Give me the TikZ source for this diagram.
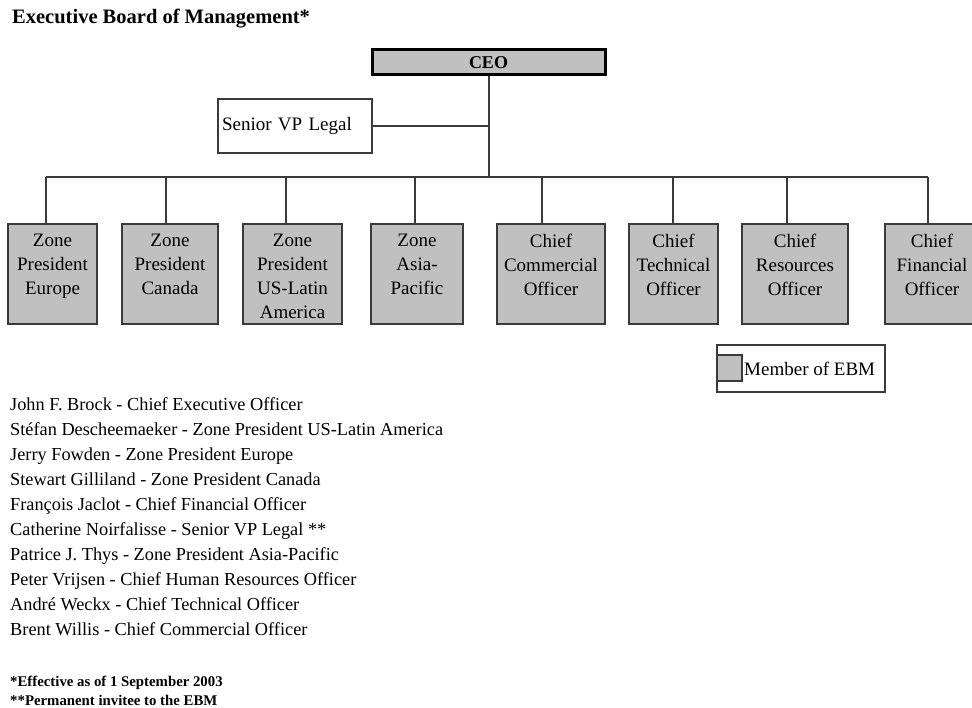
\documentclass[tikz,border=0pt]{standalone}
\usepackage{fontspec}
\setmainfont{Liberation Serif}
\usetikzlibrary{positioning}
\definecolor{boxgray}{RGB}{192,192,192}
\definecolor{edgegray}{RGB}{58,58,58}
\tikzstyle{chief} = [rectangle, draw=black, line width=3pt, fill=boxgray, minimum width=233pt, minimum height=25pt, font=\fontsize{18}{20}\selectfont\bfseries]
\tikzstyle{plain} = [rectangle, draw=edgegray, line width=2pt, fill=white, text width=146pt, inner xsep=4pt, minimum height=54pt, align=left, font=\fontsize{19}{22}\selectfont]
\tikzstyle{member} = [rectangle, draw=edgegray, line width=2pt, fill=boxgray, inner sep=0pt, anchor=north, font=\fontsize{19}{24}\selectfont]
\tikzstyle{line} = [draw=edgegray, line width=2pt]
\newcommand{\boxtext}[2]{\parbox[t][100pt][t]{#1}{\centering\vspace{10pt}#2}}

\begin{document}
\begin{tikzpicture}[x=1pt, y=-1pt]
\useasboundingbox (0,0) rectangle (972,708);
\clip (0,0) rectangle (972,708);
\node (title) [anchor=base west, inner sep=0pt, font=\fontsize{20.5}{22}\selectfont\bfseries] at (12,24) {Executive Board of Management*};
\node (ceo) [chief] at (488.5,62.5) {CEO};
\node (legal) [plain] at (295,126) {Senior VP Legal};
\node (z1) [member] at (52.5,223) {\boxtext{89pt}{Zone\\President\\Europe}};
\node (z2) [member] at (170,223) {\boxtext{96pt}{Zone\\President\\Canada}};
\node (z3) [member] at (292.5,223) {\boxtext{99pt}{Zone\\President\\US-Latin\\America}};
\node (z4) [member] at (417,223) {\boxtext{92pt}{Zone\\Asia-\\Pacific}};
\node (z5) [member] at (551,223) {\boxtext{108pt}{Chief\\Commercial\\Officer}};
\node (z6) [member] at (673.5,223) {\boxtext{89pt}{Chief\\Technical\\Officer}};
\node (z7) [member] at (795,223) {\boxtext{106pt}{Chief\\Resources\\Officer}};
\node (z8) [member] at (932,223) {\boxtext{94pt}{Chief\\Financial\\Officer}};
\node (legend) [rectangle, draw=edgegray, line width=2pt, minimum width=168pt, minimum height=47pt] at (801,368.5) {};
\node (swatch) [rectangle, draw=edgegray, line width=1.5pt, fill=boxgray, minimum width=25pt, minimum height=26pt, inner sep=0pt] at (729.5,368) {};
\node (key) [anchor=west, inner sep=0pt, font=\fontsize{19}{22}\selectfont] at (744,369) {Member of EBM};
\node (names) [anchor=base west, inner sep=0pt, align=left, font=\fontsize{18.3}{25}\selectfont] at (10,635) {John F. Brock - Chief Executive Officer\\
Stéfan Descheemaeker - Zone President US-Latin America\\
Jerry Fowden - Zone President Europe\\
Stewart Gilliland - Zone President Canada\\
François Jaclot - Chief Financial Officer\\
Catherine Noirfalisse - Senior VP Legal **\\
Patrice J. Thys - Zone President Asia-Pacific\\
Peter Vrijsen - Chief Human Resources Officer\\
André Weckx - Chief Technical Officer\\
Brent Willis - Chief Commercial Officer};
\node (notes) [anchor=base west, inner sep=0pt, align=left, font=\fontsize{14.8}{19}\selectfont\bfseries] at (10,705) {*Effective as of 1 September 2003\\
**Permanent invitee to the EBM};

\foreach \i/\x in {1/46, 2/166, 3/286, 4/415, 5/542, 6/673, 7/787, 8/928}
  \coordinate (d\i) at (\x,177);
\draw [line](ceo.south) -- (ceo.south |- d1);
\draw [line](legal.east) -- (legal.east -| ceo.south);
\draw [line](d1) -- (d8);
\foreach \i in {1,...,8}
  \draw [line](d\i) -- (d\i |- z\i.north);
\end{tikzpicture}
\end{document}
